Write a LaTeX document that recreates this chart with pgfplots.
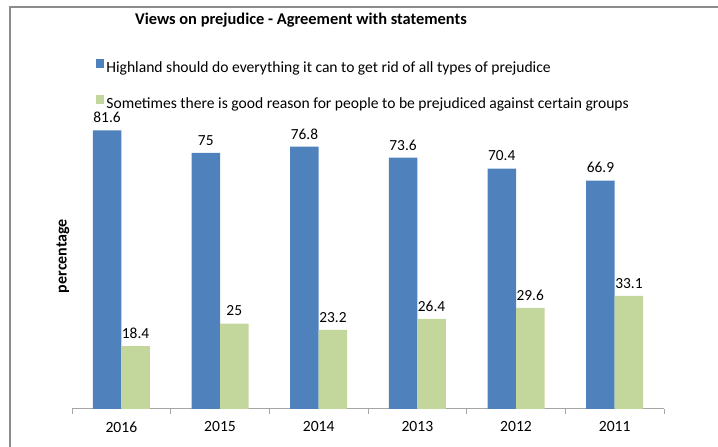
\documentclass[border=0pt]{standalone}
\usepackage{fontspec}
\setmainfont{Carlito}
\usepackage{pgfplots}
\pgfplotsset{compat=1.18}
\definecolor{barblue}{HTML}{4F81BD}
\definecolor{bargreen}{HTML}{C3D69B}
\definecolor{framegray}{HTML}{8C8C8C}
\definecolor{axisgray}{HTML}{A6A6A6}
\begin{document}
\begin{tikzpicture}[x=1bp,y=1bp]
\useasboundingbox (0,0) rectangle (718,447);
\draw[framegray, line width=1.3bp] (10,-5) -- (10,440) -- (725,440);
\begin{axis}[
  at={(72bp,38bp)}, anchor=south west,
  scale only axis, width=592bp, height=341.5bp,
  xmin=-0.5, xmax=5.5, ymin=0, ymax=100,
  axis x line*=bottom, axis y line=none,
  xtick={0,...,5}, xticklabels={2016,2015,2014,2013,2012,2011},
  major x tick style={draw=none},
  minor xtick={-0.5,0.5,...,5.5},
  minor tick length=5bp, tick align=outside,
  x axis line style={draw=axisgray, line width=1bp},
  minor x tick style={draw=axisgray, line width=1bp},
  /pgf/number format/assume math mode=true,
  ticklabel style={font=\fontsize{15.6bp}{18bp}\selectfont, text=black},
  xticklabel style={yshift=-5bp},
  ybar=0pt, bar width=28.5bp,
  nodes near coords,
  nodes near coords style={font=\fontsize{15.4bp}{18bp}\selectfont, text=black, yshift=4bp},
  legend style={at={(0.035,1.03)}, anchor=north west, draw=none, fill=none,
    font=\fontsize{15.6bp}{18bp}\selectfont, row sep=19bp, legend cell align=left},
  legend image code/.code={\fill[#1] (0bp,0bp) rectangle (8.5bp,8.5bp);},
]
\addplot[fill=barblue, draw=none] coordinates {(0,81.6)(1,75)(2,76.8)(3,73.6)(4,70.4)(5,66.9)};
\addplot[fill=bargreen, draw=none] coordinates {(0,18.4)(1,25)(2,23.2)(3,26.4)(4,29.6)(5,33.1)};
\legend{Highland should do everything it can to get rid of all types of prejudice,
Sometimes there is good reason for people to be prejudiced against certain groups}
\end{axis}
\node[font=\bfseries\fontsize{16.4bp}{19bp}\selectfont] at (301,427) {Views on prejudice - Agreement with statements};
\node[font=\bfseries\fontsize{16bp}{19bp}\selectfont, rotate=90] at (63,191) {percentage};
\end{tikzpicture}
\end{document}
